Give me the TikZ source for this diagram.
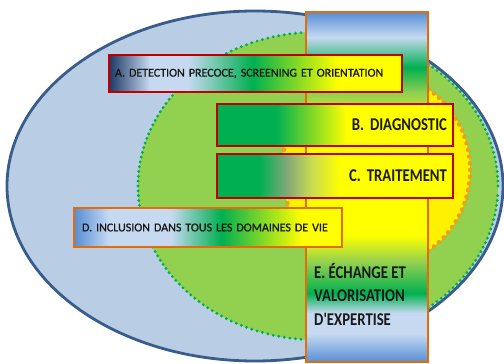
\documentclass[tikz,border=0pt]{standalone}
\usepackage{fontspec}
\setmainfont{Carlito}
\newfontfamily\bandfont[FakeStretch=0.82]{Carlito}
\newfontfamily\labelfont[FakeBold=1]{Carlito}
\usepackage{xcolor}

\definecolor{ovalfill}{HTML}{B9CDE5}
\definecolor{ovalline}{HTML}{385D8A}
\definecolor{zonegreen}{HTML}{92D050}
\definecolor{dotgreen}{HTML}{00B050}
\definecolor{dotorange}{HTML}{F59C10}
\definecolor{boxred}{HTML}{C00000}
\definecolor{boxorange}{HTML}{E46C0A}
\definecolor{navy}{HTML}{1F3864}
\definecolor{paleblue}{HTML}{C6D9F1}
\definecolor{midblue}{HTML}{558ED5}
\definecolor{deepgreen}{HTML}{00B050}
\definecolor{greygreen}{HTML}{85A878}
\definecolor{lightlime}{HTML}{C8DC50}

\pgfdeclarehorizontalshading{shadeA}{100bp}{color(0bp)=(navy); color(25bp)=(navy); color(32bp)=(paleblue); color(38.5bp)=(paleblue); color(49.5bp)=(deepgreen); color(64bp)=(yellow); color(100bp)=(yellow)}
\pgfdeclarehorizontalshading{shadeB}{100bp}{color(0bp)=(deepgreen); color(37.5bp)=(deepgreen); color(52.5bp)=(yellow); color(100bp)=(yellow)}
\pgfdeclarehorizontalshading{shadeC}{100bp}{color(0bp)=(deepgreen); color(34bp)=(deepgreen); color(40bp)=(greygreen); color(45bp)=(lightlime); color(51bp)=(yellow); color(100bp)=(yellow)}
\pgfdeclarehorizontalshading{shadeD}{100bp}{color(0bp)=(midblue); color(25bp)=(midblue); color(31.5bp)=(paleblue); color(43bp)=(paleblue); color(52.5bp)=(deepgreen); color(67.5bp)=(yellow); color(100bp)=(yellow)}
\pgfdeclareverticalshading{shadeE}{100bp}{color(0bp)=(midblue); color(25bp)=(midblue); color(29bp)=(paleblue); color(32bp)=(paleblue); color(34.8bp)=(deepgreen); color(39.3bp)=(zonegreen); color(43.1bp)=(yellow); color(58.1bp)=(yellow); color(63.4bp)=(zonegreen); color(67.1bp)=(deepgreen); color(71.4bp)=(paleblue); color(75bp)=(midblue); color(100bp)=(midblue)}

\begin{document}
\begin{tikzpicture}[x=1pt,y=-1pt,
  band/.style={draw=boxred, line width=2.6pt, inner xsep=6pt, inner ysep=0pt, text=black!90},
  smalltxt/.style={font=\labelfont\fontsize{12}{14}\selectfont},
  bigtxt/.style={font=\bandfont\fontsize{18}{23.5}\selectfont\bfseries}]
\useasboundingbox (0,0) rectangle (504,364);
\coordinate (O) at (255,186);
\coordinate (G) at (318,186);
\coordinate (Y) at (376,170);

\filldraw[fill=ovalfill, draw=ovalline, line width=2.8pt] (O) ellipse [x radius=248pt, y radius=175pt];
\fill[zonegreen] (G) ellipse [x radius=180pt, y radius=154pt];
\foreach \a in {0,1.8,...,358.2}
  \fill[dotgreen] (G) ++(\a:180pt and 154pt) circle [radius=1.6pt];
\fill[yellow] (Y) ellipse [x radius=94pt, y radius=97pt];
\foreach \a in {0,4,...,356}
  \fill[dotorange] (Y) ++(\a:94pt and 97pt) circle [radius=2.2pt];

\node[band, draw=boxorange, shading=shadeE, minimum width=122pt, minimum height=350pt] (echange) at (367,187) {};

\node[band, shading=shadeA, minimum height=37pt, text width=281pt, align=left, smalltxt] (detect) at (255.5,73.5) {A. DETECTION PRECOCE, SCREENING ET ORIENTATION};
\node[band, shading=shadeB, minimum height=42pt, text width=224pt, align=right, bigtxt] (diag) at (335,125) {B. DIAGNOSTIC};
\node[band, shading=shadeC, minimum height=44pt, text width=224pt, align=right, bigtxt] (trait) at (335,176) {C. TRAITEMENT};
\node[band, draw=boxorange, shading=shadeD, minimum height=39pt, inner xsep=8pt, text width=252pt, align=left, smalltxt] (inclus) at (208,227.5) {D. INCLUSION DANS TOUS LES DOMAINES DE VIE};

\node[bigtxt, align=left, anchor=north west, inner sep=0pt, text=black!90] (expertise) at (314,263) {E.~ÉCHANGE ET\\VALORISATION\\D'EXPERTISE};

\end{tikzpicture}
\end{document}
